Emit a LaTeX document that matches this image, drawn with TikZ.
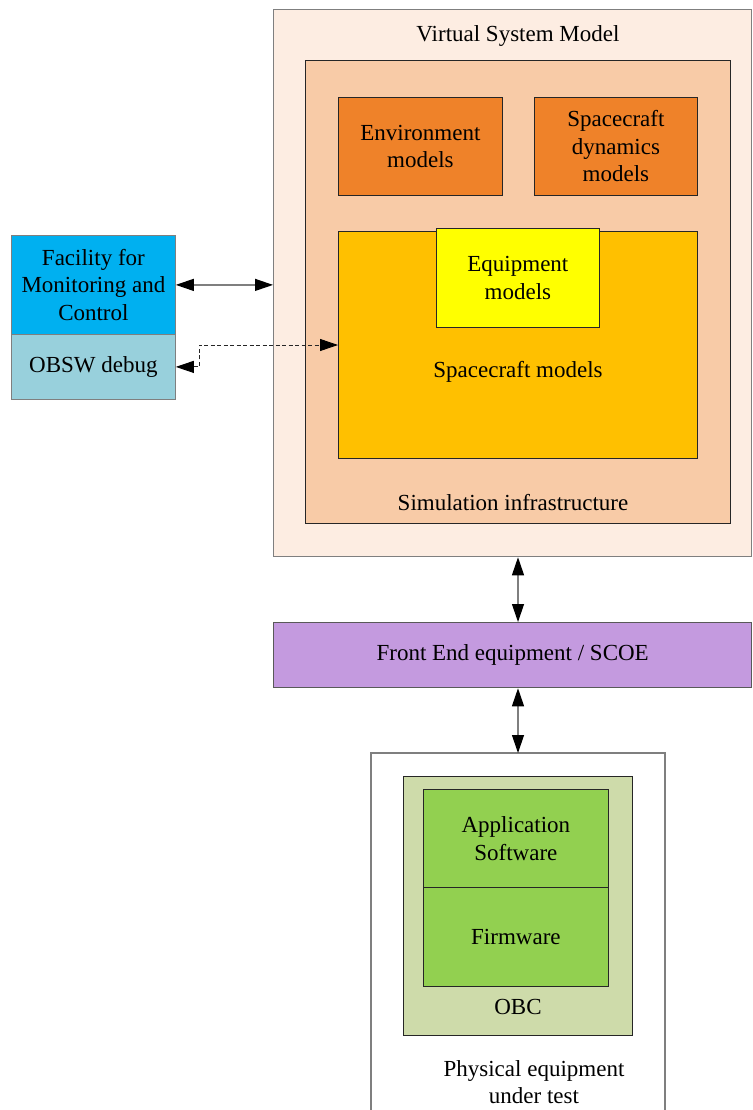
\documentclass[tikz,border=0pt]{standalone}
\usepackage{fontspec}
\setmainfont{Liberation Serif}
\usetikzlibrary{arrows.meta}

\definecolor{vsmfill}{HTML}{FDEDE2}
\definecolor{simfill}{HTML}{F8CBA7}
\definecolor{envfill}{HTML}{EF8229}
\definecolor{scfill}{HTML}{FFC000}
\definecolor{eqfill}{HTML}{FFFF00}
\definecolor{facfill}{HTML}{00B0F0}
\definecolor{dbgfill}{HTML}{98D0DC}
\definecolor{fefill}{HTML}{C49ADF}
\definecolor{obcfill}{HTML}{CEDBAA}
\definecolor{swfill}{HTML}{92D050}
\definecolor{edge}{HTML}{7F7F7F}

\tikzset{
  x=1pt, y=-1pt,
  every node/.style={font=\fontsize{23}{27.5}\selectfont, inner sep=0pt},
  container/.style={draw=edge, line width=1.3pt, anchor=north west},
  block/.style={draw=black!85, line width=0.8pt, anchor=north west, align=center},
  caption/.style={align=center},
  tip/.tip={Triangle[length=18pt,width=12pt,black]},
  biarrow/.style={draw=edge, line width=1.2pt, tip-tip},
  dasharrow/.style={draw=black!85, line width=0.9pt, dash pattern=on 4pt off 2.5pt, tip-tip}
}

\begin{document}
\begin{tikzpicture}
\useasboundingbox (0,0) rectangle (752,1110);

% Virtual system model and its contents
\node[container, fill=vsmfill, minimum width=478pt, minimum height=547pt] (vsm) at (273,9) {};
\node[caption] (vsmlbl) at (518,36) {Virtual System Model};
\node[block, fill=simfill, minimum width=425pt, minimum height=463pt] (sim) at (305,60) {};
\node[caption] (simlbl) at (513,503) {Simulation infrastructure};
\node[block, fill=envfill, minimum width=164pt, minimum height=98pt] (env) at (338,97) {Environment\\models};
\node[block, fill=envfill, minimum width=163pt, minimum height=98pt] (dyn) at (534,97) {Spacecraft\\dynamics\\models};
\node[block, fill=scfill, minimum width=359pt, minimum height=227pt] (scm) at (338,231) {};
\node[caption] (scmlbl) at (518,372) {Spacecraft models};
\node[block, fill=eqfill, minimum width=163pt, minimum height=99pt] (eqm) at (436,228) {Equipment\\models};

% Monitoring and control facility
\node[block, draw=edge, fill=facfill, minimum width=164pt, minimum height=99pt] (fac) at (11,235) {Facility for\\Monitoring and\\Control};
\node[block, draw=edge, fill=dbgfill, minimum width=164pt, minimum height=65pt] (dbg) at (11,334) {OBSW debug};

% Front end
\node[container, draw=edge!70!black, fill=fefill, minimum width=478pt, minimum height=65pt] (fe) at (273,622) {Front End equipment / SCOE};

% Physical equipment under test (open at the bottom edge)
\draw[draw=edge, line width=1.3pt, fill=white] (371,1112) -- (371,753) -- (665,753) -- (665,1112);
\coordinate (peu) at (518,753);
\node[block, fill=obcfill, minimum width=229pt, minimum height=259pt] (obc) at (403,776) {};
\node[caption] (obclbl) at (518,1007) {OBC};
\node[block, fill=swfill, minimum width=185pt, minimum height=98pt] (app) at (423,789) {Application\\Software};
\node[block, fill=swfill, minimum width=185pt, minimum height=99pt] (fw) at (423,887) {Firmware};
\node[caption] (peulbl) at (534,1082) {Physical equipment\\under test};

% Connectors
\coordinate (xa) at (518,0);
\draw[biarrow] (fac.east) -- (fac.east -| vsm.west);
\coordinate (dj) at (199,0);
\coordinate (dy) at (0,345);
\draw[dasharrow] (dbg.east) -- (dbg.east -| dj) -- (dj |- dy) -- (dy -| scm.west);
\draw[biarrow] (vsm.south -| xa) -- (fe.north -| xa);
\draw[biarrow] (fe.south -| xa) -- (peu);
\end{tikzpicture}
\end{document}
